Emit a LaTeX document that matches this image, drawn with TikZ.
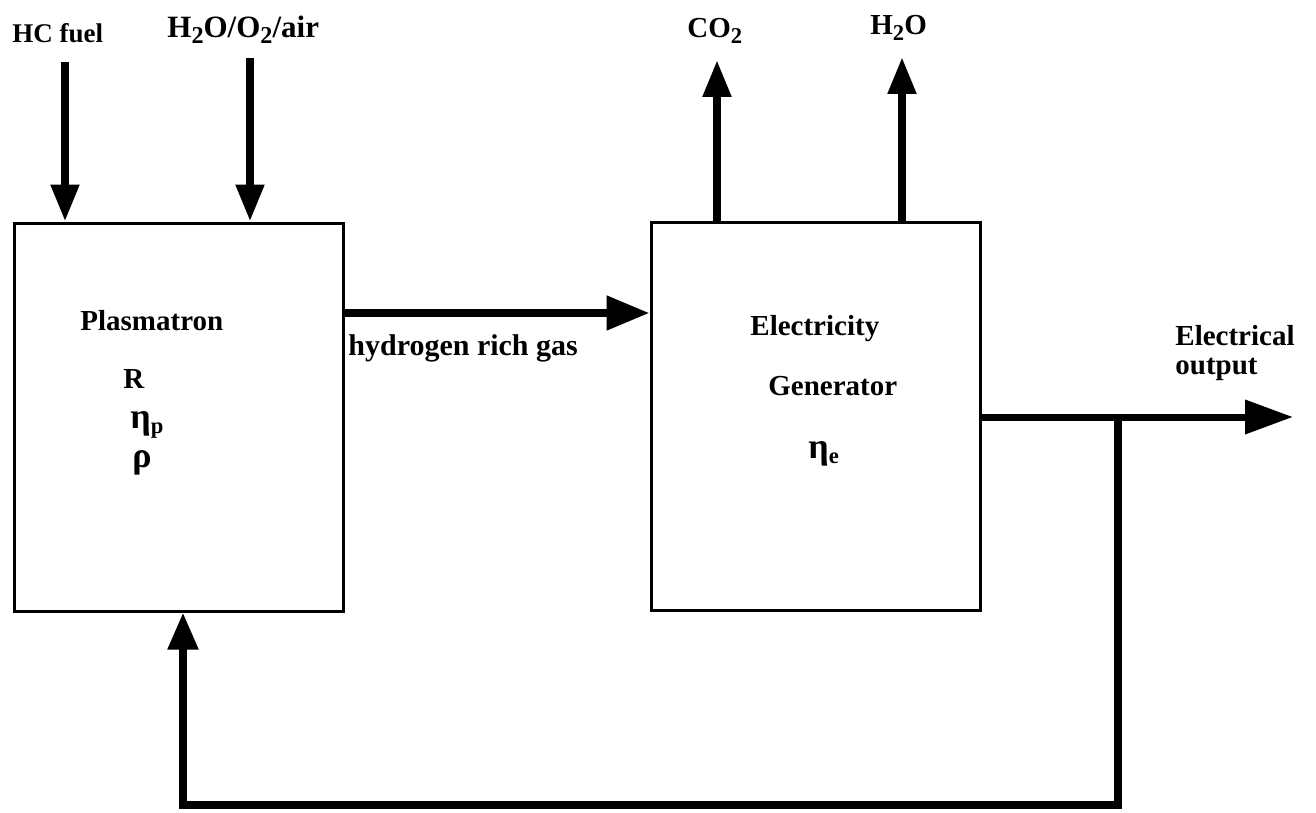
\documentclass[tikz,border=0pt]{standalone}
\usepackage{fontspec}
\setmainfont{Liberation Serif}
\usetikzlibrary{arrows.meta}
\newcommand\lowsub[1]{\raisebox{-0.4ex}{\fontsize{0.78em}{1em}\selectfont #1}}
\newcommand\grk[1]{{\fontsize{18}{20}\selectfont #1}}
\begin{document}
\begin{tikzpicture}[x=0.5pt,y=-0.5pt,
  box/.style={draw,line width=1.5pt,minimum width=164.5pt,minimum height=194pt,inner sep=0pt},
  lbl/.style={font=\fontsize{14.5}{17}\selectfont\bfseries,inner sep=0pt,anchor=base west},
  flow/.style={line width=4pt,-{Triangle[length=18.5pt,width=13.5pt]}},
  wideflow/.style={line width=4pt,-{Triangle[length=21.5pt,width=16.5pt]}},
  outflow/.style={line width=3.5pt,-{Triangle[length=24pt,width=16.5pt]}},
  feedback/.style={line width=4pt,line join=miter,-{Triangle[length=18.5pt,width=14.5pt]}},
  ]
\useasboundingbox (0,0) rectangle (1316,813);

% blocks
\node[box] (P) at (178.5,417) {};
\node[box] (G) at (815.5,416) {};

% texts in blocks
\node[lbl] (ptxt) at (80,330) {Plasmatron};
\node[lbl] (R) at (123,388) {R};
\node[lbl] (etap) at (130,428) {\grk{η}\lowsub{p}};
\node[lbl] (rho) at (132,467) {\grk{ρ}};
\node[lbl] (etxt) at (750,335) {Electricity};
\node[lbl] (gtxt) at (768,395) {Generator};
\node[lbl] (etae) at (808,458) {\grk{η}\lowsub{e}};

% outside labels
\node[lbl,font=\fontsize{13.5}{16}\selectfont\bfseries] (hc) at (12,43) {HC fuel};
\node[lbl,font=\fontsize{15.5}{18}\selectfont\bfseries] (air) at (167,38) {H\lowsub{2}O/O\lowsub{2}/air};
\node[lbl] (co2) at (687,38) {CO\lowsub{2}};
\node[lbl] (h2o) at (870,35) {H\lowsub{2}O};
\node[lbl,font=\fontsize{15}{18}\selectfont\bfseries] (hrg) at (348,355) {hydrogen rich gas};
\node[lbl] (eo1) at (1175,345) {Electrical};
\node[lbl] (eo2) at (1175,374) {output};

% connector coordinates
\coordinate (hcs) at (65,62);
\coordinate (airs) at (250,58);
\coordinate (co2t) at (717,60);
\coordinate (h2ot) at (902,57);
\coordinate (hy) at (343,313);
\coordinate (outt) at (1293,417);
\coordinate (j) at (1118,417);
\coordinate (fb) at (183,805);

% connectors
\draw[flow] (hcs) -- (hcs |- P.north);
\draw[flow] (airs) -- (airs |- P.north);
\draw[flow] (co2t |- G.north) -- (co2t);
\draw[flow] (h2ot |- G.north) -- (h2ot);
\draw[wideflow] (hy) -- (hy -| G.west);
\draw[outflow] (outt -| G.east) -- (outt);
\draw[feedback] (j) -- (j |- fb) -- (fb) -- (fb |- P.south);
\end{tikzpicture}
\end{document}
